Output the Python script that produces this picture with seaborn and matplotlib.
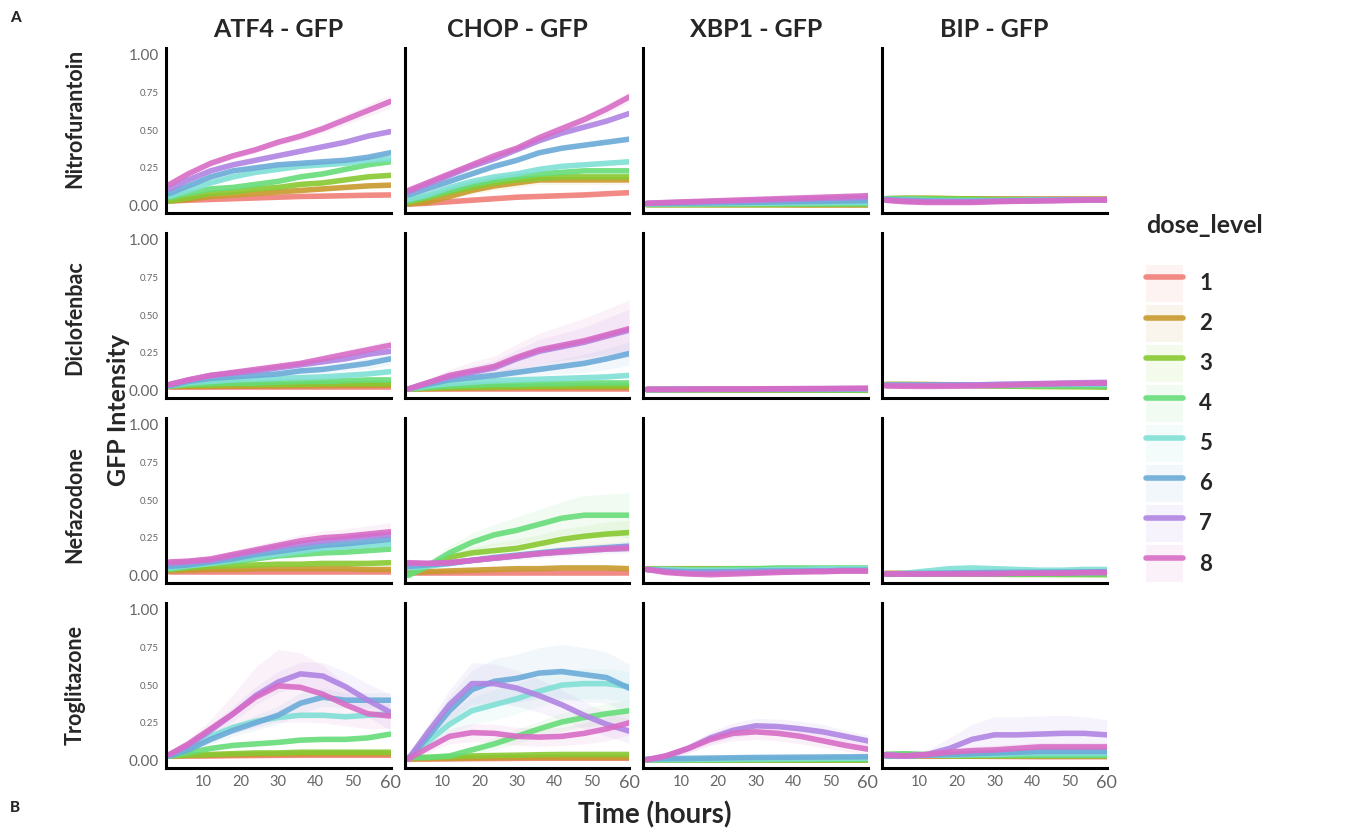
import numpy as np
import pandas as pd
import seaborn as sns
import matplotlib.pyplot as plt
from matplotlib.patches import Patch
from matplotlib.lines import Line2D

# time points (hours) at which the smoothed curves were read
T = [1, 6, 12, 18, 24, 30, 36, 42, 48, 54, 60]
DOSES = ['1', '2', '3', '4', '5', '6', '7', '8']
REPORTERS = ['ATF4 - GFP', 'CHOP - GFP', 'XBP1 - GFP', 'BIP - GFP']
COMPOUNDS = ['Nitrofurantoin', 'Diclofenbac', 'Nefazodone', 'Troglitazone']
COLORS = ['#F07E78', '#C99A2E', '#88C932', '#66DC78', '#80E0D6', '#6BABD8', '#B084E2', '#D86CC6']
Y_TICKS = [0, 0.25, 0.5, 0.75, 1.0]
Y_LABELS = ['0.00', '0.25', '0.50', '0.75', '1.00']
X_TICKS = [10, 20, 30, 40, 50, 60]
BAND_DEFAULT = 0.012

# one list per dose level (1..8), values at T
nitro_atf4 = [
    [0.03, 0.035, 0.04, 0.045, 0.05, 0.055, 0.06, 0.062, 0.065, 0.068, 0.07],
    [0.03, 0.04, 0.06, 0.07, 0.08, 0.09, 0.10, 0.11, 0.12, 0.13, 0.135],
    [0.03, 0.05, 0.08, 0.09, 0.11, 0.12, 0.14, 0.15, 0.17, 0.19, 0.20],
    [0.05, 0.08, 0.11, 0.12, 0.14, 0.16, 0.19, 0.21, 0.24, 0.27, 0.29],
    [0.06, 0.10, 0.15, 0.19, 0.22, 0.24, 0.26, 0.27, 0.28, 0.30, 0.31],
    [0.08, 0.13, 0.19, 0.23, 0.25, 0.27, 0.28, 0.29, 0.30, 0.32, 0.35],
    [0.11, 0.17, 0.23, 0.27, 0.30, 0.33, 0.36, 0.39, 0.42, 0.46, 0.49],
    [0.14, 0.21, 0.28, 0.33, 0.37, 0.42, 0.46, 0.51, 0.57, 0.63, 0.69],
]
nitro_atf4_band = {'8': [0.01, 0.015, 0.02, 0.02, 0.02, 0.02, 0.025, 0.03, 0.035, 0.04, 0.045]}

nitro_chop = [
    [0.01, 0.015, 0.025, 0.035, 0.045, 0.055, 0.06, 0.065, 0.07, 0.078, 0.085],
    [0.01, 0.02, 0.06, 0.10, 0.13, 0.15, 0.17, 0.17, 0.17, 0.17, 0.17],
    [0.02, 0.05, 0.09, 0.12, 0.15, 0.17, 0.18, 0.19, 0.19, 0.19, 0.19],
    [0.03, 0.06, 0.10, 0.14, 0.17, 0.19, 0.21, 0.22, 0.23, 0.23, 0.23],
    [0.04, 0.07, 0.12, 0.16, 0.19, 0.21, 0.24, 0.26, 0.27, 0.28, 0.29],
    [0.07, 0.11, 0.16, 0.21, 0.26, 0.30, 0.35, 0.38, 0.40, 0.42, 0.44],
    [0.09, 0.14, 0.20, 0.26, 0.31, 0.37, 0.43, 0.48, 0.52, 0.56, 0.61],
    [0.10, 0.15, 0.21, 0.27, 0.33, 0.38, 0.45, 0.51, 0.57, 0.64, 0.72],
]
nitro_chop_band = {'8': [0.01, 0.015, 0.02, 0.02, 0.025, 0.025, 0.03, 0.03, 0.03, 0.035, 0.035],
                   '2': [0.01, 0.015, 0.02, 0.025, 0.03, 0.03, 0.03, 0.03, 0.03, 0.03, 0.03]}

nitro_xbp1 = [
    [0.008, 0.008, 0.008, 0.009, 0.009, 0.009, 0.01, 0.01, 0.01, 0.01, 0.01],
    [0.005, 0.005, 0.005, 0.004, 0.004, 0.004, 0.004, 0.003, 0.003, 0.003, 0.003],
    [0.006, 0.006, 0.006, 0.007, 0.007, 0.007, 0.007, 0.008, 0.008, 0.008, 0.008],
    [0.008, 0.008, 0.009, 0.009, 0.01, 0.01, 0.01, 0.011, 0.011, 0.012, 0.012],
    [0.01, 0.011, 0.012, 0.013, 0.014, 0.015, 0.016, 0.017, 0.018, 0.019, 0.02],
    [0.012, 0.014, 0.016, 0.018, 0.02, 0.022, 0.024, 0.026, 0.028, 0.03, 0.032],
    [0.015, 0.018, 0.022, 0.026, 0.03, 0.034, 0.038, 0.042, 0.046, 0.05, 0.054],
    [0.015, 0.02, 0.025, 0.03, 0.035, 0.04, 0.045, 0.05, 0.055, 0.06, 0.065],
]

nitro_bip = [
    [0.04, 0.04, 0.04, 0.04, 0.04, 0.04, 0.04, 0.04, 0.04, 0.04, 0.04],
    [0.045, 0.048, 0.048, 0.046, 0.044, 0.042, 0.041, 0.04, 0.04, 0.04, 0.04],
    [0.045, 0.047, 0.047, 0.045, 0.043, 0.04, 0.04, 0.04, 0.04, 0.04, 0.04],
    [0.045, 0.045, 0.043, 0.04, 0.038, 0.037, 0.037, 0.037, 0.038, 0.038, 0.038],
    [0.04, 0.037, 0.033, 0.03, 0.03, 0.032, 0.033, 0.035, 0.036, 0.037, 0.038],
    [0.04, 0.035, 0.03, 0.028, 0.028, 0.03, 0.032, 0.035, 0.036, 0.037, 0.038],
    [0.035, 0.03, 0.025, 0.025, 0.025, 0.028, 0.03, 0.032, 0.035, 0.037, 0.038],
    [0.035, 0.025, 0.02, 0.02, 0.02, 0.025, 0.028, 0.03, 0.032, 0.035, 0.037],
]

diclo_atf4 = [
    [0.02, 0.02, 0.02, 0.02, 0.02, 0.02, 0.02, 0.02, 0.02, 0.02, 0.02],
    [0.025, 0.026, 0.027, 0.028, 0.029, 0.03, 0.031, 0.032, 0.033, 0.034, 0.035],
    [0.03, 0.035, 0.035, 0.04, 0.04, 0.04, 0.04, 0.045, 0.045, 0.045, 0.045],
    [0.03, 0.04, 0.045, 0.05, 0.05, 0.055, 0.06, 0.06, 0.065, 0.07, 0.07],
    [0.03, 0.05, 0.06, 0.07, 0.075, 0.08, 0.085, 0.09, 0.10, 0.11, 0.125],
    [0.03, 0.06, 0.08, 0.09, 0.10, 0.11, 0.13, 0.14, 0.16, 0.18, 0.21],
    [0.04, 0.07, 0.10, 0.115, 0.13, 0.15, 0.17, 0.19, 0.21, 0.24, 0.26],
    [0.04, 0.07, 0.10, 0.12, 0.14, 0.16, 0.18, 0.21, 0.24, 0.27, 0.30],
]
diclo_atf4_band = {'8': [0.01, 0.01, 0.015, 0.015, 0.015, 0.02, 0.02, 0.025, 0.03, 0.03, 0.035],
                   '6': [0.01, 0.01, 0.015, 0.015, 0.02, 0.02, 0.025, 0.03, 0.03, 0.035, 0.04]}

diclo_chop = [
    [0.01, 0.01, 0.01, 0.01, 0.01, 0.01, 0.01, 0.01, 0.01, 0.01, 0.01],
    [0.01, 0.012, 0.014, 0.016, 0.018, 0.02, 0.02, 0.02, 0.02, 0.02, 0.02],
    [0.01, 0.015, 0.02, 0.022, 0.024, 0.026, 0.028, 0.03, 0.03, 0.03, 0.03],
    [0.01, 0.02, 0.03, 0.035, 0.04, 0.04, 0.045, 0.045, 0.05, 0.05, 0.05],
    [0.01, 0.03, 0.045, 0.055, 0.065, 0.07, 0.075, 0.08, 0.085, 0.09, 0.10],
    [0.01, 0.04, 0.07, 0.085, 0.10, 0.12, 0.14, 0.16, 0.18, 0.21, 0.245],
    [0.01, 0.05, 0.09, 0.12, 0.15, 0.21, 0.26, 0.29, 0.32, 0.36, 0.40],
    [0.01, 0.05, 0.10, 0.13, 0.16, 0.22, 0.27, 0.30, 0.33, 0.37, 0.41],
]
diclo_chop_band = {'8': [0.01, 0.02, 0.04, 0.06, 0.07, 0.09, 0.11, 0.13, 0.15, 0.17, 0.19],
                   '7': [0.01, 0.02, 0.03, 0.04, 0.05, 0.06, 0.08, 0.09, 0.10, 0.12, 0.14],
                   '6': [0.01, 0.015, 0.02, 0.025, 0.03, 0.035, 0.04, 0.05, 0.06, 0.07, 0.08]}

diclo_xbp1 = [
    [0.006, 0.006, 0.006, 0.006, 0.006, 0.006, 0.006, 0.006, 0.006, 0.006, 0.006],
    [0.006, 0.006, 0.006, 0.006, 0.005, 0.005, 0.005, 0.005, 0.005, 0.005, 0.005],
    [0.006, 0.006, 0.005, 0.005, 0.004, 0.004, 0.003, 0.003, 0.002, 0.002, 0.001],
    [0.006, 0.006, 0.006, 0.006, 0.006, 0.006, 0.006, 0.005, 0.005, 0.005, 0.005],
    [0.006, 0.006, 0.007, 0.007, 0.008, 0.008, 0.008, 0.009, 0.009, 0.009, 0.01],
    [0.007, 0.007, 0.008, 0.008, 0.009, 0.009, 0.01, 0.01, 0.011, 0.011, 0.012],
    [0.007, 0.008, 0.008, 0.009, 0.01, 0.01, 0.011, 0.012, 0.012, 0.013, 0.013],
    [0.008, 0.008, 0.009, 0.01, 0.01, 0.011, 0.012, 0.012, 0.013, 0.014, 0.015],
]

diclo_bip = [
    [0.035, 0.035, 0.035, 0.035, 0.035, 0.035, 0.035, 0.035, 0.035, 0.035, 0.035],
    [0.04, 0.04, 0.04, 0.038, 0.036, 0.034, 0.033, 0.032, 0.032, 0.032, 0.032],
    [0.04, 0.04, 0.038, 0.035, 0.033, 0.03, 0.028, 0.026, 0.025, 0.024, 0.022],
    [0.035, 0.035, 0.035, 0.034, 0.033, 0.032, 0.031, 0.03, 0.03, 0.03, 0.03],
    [0.035, 0.035, 0.035, 0.035, 0.036, 0.037, 0.038, 0.039, 0.04, 0.04, 0.04],
    [0.035, 0.035, 0.035, 0.036, 0.037, 0.039, 0.041, 0.043, 0.045, 0.046, 0.047],
    [0.035, 0.034, 0.034, 0.035, 0.037, 0.04, 0.043, 0.046, 0.049, 0.052, 0.054],
    [0.03, 0.028, 0.027, 0.028, 0.03, 0.033, 0.038, 0.042, 0.046, 0.048, 0.05],
]

nefa_atf4 = [
    [0.025, 0.025, 0.025, 0.025, 0.025, 0.025, 0.025, 0.025, 0.025, 0.025, 0.025],
    [0.03, 0.035, 0.04, 0.04, 0.045, 0.045, 0.045, 0.045, 0.045, 0.04, 0.04],
    [0.04, 0.05, 0.06, 0.065, 0.07, 0.075, 0.075, 0.08, 0.08, 0.08, 0.085],
    [0.04, 0.06, 0.08, 0.09, 0.11, 0.13, 0.14, 0.15, 0.155, 0.165, 0.175],
    [0.05, 0.065, 0.08, 0.10, 0.12, 0.14, 0.16, 0.18, 0.19, 0.20, 0.21],
    [0.06, 0.07, 0.09, 0.11, 0.14, 0.16, 0.18, 0.20, 0.21, 0.225, 0.24],
    [0.08, 0.09, 0.10, 0.13, 0.16, 0.19, 0.21, 0.23, 0.245, 0.26, 0.27],
    [0.09, 0.095, 0.11, 0.14, 0.17, 0.20, 0.23, 0.25, 0.26, 0.275, 0.29],
]
nefa_atf4_band = {'8': [0.015, 0.015, 0.02, 0.025, 0.03, 0.035, 0.04, 0.045, 0.05, 0.055, 0.06]}

nefa_chop = [
    [0.015, 0.015, 0.015, 0.015, 0.015, 0.015, 0.015, 0.015, 0.015, 0.015, 0.015],
    [0.02, 0.025, 0.03, 0.035, 0.04, 0.045, 0.045, 0.05, 0.05, 0.05, 0.045],
    [0.01, 0.06, 0.12, 0.15, 0.165, 0.18, 0.21, 0.24, 0.26, 0.275, 0.285],
    [0.00, 0.06, 0.15, 0.22, 0.27, 0.30, 0.34, 0.38, 0.40, 0.40, 0.40],
    [0.05, 0.06, 0.08, 0.10, 0.115, 0.13, 0.145, 0.155, 0.165, 0.175, 0.18],
    [0.06, 0.07, 0.08, 0.10, 0.12, 0.135, 0.15, 0.165, 0.175, 0.185, 0.195],
    [0.08, 0.08, 0.085, 0.10, 0.115, 0.13, 0.145, 0.16, 0.17, 0.18, 0.19],
    [0.085, 0.08, 0.085, 0.10, 0.115, 0.13, 0.145, 0.155, 0.165, 0.175, 0.18],
]
nefa_chop_band = {'4': [0.01, 0.03, 0.05, 0.06, 0.07, 0.09, 0.10, 0.11, 0.13, 0.14, 0.15],
                  '3': [0.01, 0.02, 0.03, 0.04, 0.05, 0.06, 0.06, 0.07, 0.07, 0.08, 0.08],
                  '7': [0.01, 0.01, 0.015, 0.02, 0.02, 0.025, 0.03, 0.03, 0.035, 0.035, 0.04]}

nefa_xbp1 = [
    [0.04, 0.04, 0.04, 0.04, 0.038, 0.037, 0.036, 0.035, 0.035, 0.035, 0.035],
    [0.045, 0.045, 0.045, 0.045, 0.045, 0.045, 0.04, 0.04, 0.04, 0.04, 0.04],
    [0.045, 0.045, 0.045, 0.045, 0.045, 0.045, 0.045, 0.045, 0.045, 0.045, 0.045],
    [0.04, 0.04, 0.04, 0.04, 0.045, 0.045, 0.05, 0.05, 0.05, 0.05, 0.05],
    [0.04, 0.04, 0.035, 0.035, 0.035, 0.035, 0.04, 0.04, 0.045, 0.045, 0.045],
    [0.04, 0.03, 0.025, 0.025, 0.025, 0.03, 0.03, 0.03, 0.03, 0.035, 0.035],
    [0.04, 0.025, 0.015, 0.015, 0.02, 0.02, 0.025, 0.025, 0.03, 0.03, 0.03],
    [0.04, 0.02, 0.01, 0.005, 0.01, 0.015, 0.02, 0.025, 0.025, 0.03, 0.03],
]

nefa_bip = [
    [0.01, 0.01, 0.01, 0.01, 0.01, 0.01, 0.01, 0.01, 0.01, 0.01, 0.01],
    [0.015, 0.015, 0.014, 0.013, 0.012, 0.012, 0.011, 0.011, 0.01, 0.01, 0.01],
    [0.01, 0.01, 0.009, 0.009, 0.008, 0.008, 0.007, 0.007, 0.006, 0.006, 0.005],
    [0.01, 0.01, 0.01, 0.01, 0.01, 0.01, 0.01, 0.01, 0.01, 0.01, 0.01],
    [0.01, 0.015, 0.03, 0.045, 0.05, 0.045, 0.04, 0.035, 0.035, 0.04, 0.04],
    [0.01, 0.012, 0.014, 0.016, 0.018, 0.02, 0.021, 0.022, 0.023, 0.024, 0.025],
    [0.01, 0.01, 0.011, 0.012, 0.013, 0.014, 0.015, 0.016, 0.017, 0.018, 0.02],
    [0.01, 0.01, 0.01, 0.01, 0.01, 0.01, 0.015, 0.015, 0.015, 0.02, 0.02],
]

trog_atf4 = [
    [0.03, 0.03, 0.03, 0.032, 0.033, 0.034, 0.035, 0.035, 0.035, 0.035, 0.035],
    [0.03, 0.032, 0.035, 0.038, 0.04, 0.042, 0.044, 0.045, 0.045, 0.045, 0.045],
    [0.03, 0.035, 0.04, 0.045, 0.05, 0.05, 0.055, 0.055, 0.055, 0.055, 0.055],
    [0.03, 0.05, 0.08, 0.10, 0.11, 0.12, 0.135, 0.14, 0.14, 0.15, 0.175],
    [0.03, 0.08, 0.16, 0.22, 0.26, 0.285, 0.30, 0.30, 0.29, 0.30, 0.31],
    [0.03, 0.07, 0.14, 0.20, 0.25, 0.30, 0.38, 0.42, 0.40, 0.40, 0.40],
    [0.04, 0.10, 0.20, 0.31, 0.43, 0.52, 0.575, 0.56, 0.49, 0.40, 0.32],
    [0.04, 0.11, 0.21, 0.31, 0.42, 0.495, 0.485, 0.44, 0.37, 0.31, 0.295],
]
trog_atf4_band = {'8': [0.01, 0.03, 0.06, 0.13, 0.20, 0.24, 0.23, 0.19, 0.14, 0.10, 0.08],
                  '7': [0.01, 0.02, 0.04, 0.05, 0.06, 0.07, 0.08, 0.09, 0.10, 0.11, 0.12],
                  '6': [0.01, 0.02, 0.03, 0.04, 0.05, 0.06, 0.07, 0.06, 0.05, 0.05, 0.05]}

trog_chop = [
    [0.01, 0.01, 0.011, 0.012, 0.013, 0.014, 0.015, 0.015, 0.015, 0.015, 0.015],
    [0.01, 0.012, 0.014, 0.016, 0.018, 0.02, 0.02, 0.02, 0.02, 0.02, 0.02],
    [0.02, 0.02, 0.025, 0.03, 0.033, 0.035, 0.038, 0.04, 0.04, 0.04, 0.04],
    [0.02, 0.02, 0.03, 0.07, 0.11, 0.16, 0.21, 0.255, 0.285, 0.31, 0.33],
    [0.01, 0.12, 0.24, 0.33, 0.37, 0.41, 0.46, 0.50, 0.51, 0.51, 0.49],
    [0.01, 0.15, 0.33, 0.47, 0.525, 0.545, 0.58, 0.59, 0.57, 0.55, 0.48],
    [0.01, 0.18, 0.37, 0.51, 0.51, 0.48, 0.43, 0.37, 0.30, 0.24, 0.195],
    [0.01, 0.08, 0.16, 0.185, 0.18, 0.16, 0.155, 0.16, 0.18, 0.21, 0.25],
]
trog_chop_band = {'6': [0.01, 0.05, 0.10, 0.13, 0.15, 0.16, 0.17, 0.18, 0.18, 0.17, 0.16],
                  '7': [0.01, 0.05, 0.10, 0.14, 0.13, 0.12, 0.11, 0.10, 0.09, 0.08, 0.08],
                  '5': [0.01, 0.04, 0.07, 0.09, 0.10, 0.10, 0.10, 0.10, 0.10, 0.10, 0.10],
                  '8': [0.01, 0.03, 0.05, 0.06, 0.06, 0.06, 0.06, 0.06, 0.07, 0.08, 0.08],
                  '4': [0.01, 0.01, 0.02, 0.03, 0.04, 0.05, 0.05, 0.06, 0.06, 0.07, 0.07]}

trog_xbp1 = [
    [0.0, 0.0, 0.0, 0.0, 0.0, 0.0, 0.0, 0.0, 0.0, 0.0, 0.0],
    [0.0, 0.0, 0.0, 0.0, 0.0, 0.0, 0.0, 0.0, 0.0, 0.0, 0.0],
    [0.002, 0.002, 0.002, 0.002, 0.002, 0.002, 0.002, 0.002, 0.002, 0.002, 0.002],
    [0.004, 0.004, 0.005, 0.005, 0.006, 0.006, 0.007, 0.007, 0.008, 0.008, 0.008],
    [0.005, 0.006, 0.007, 0.008, 0.009, 0.01, 0.011, 0.012, 0.013, 0.014, 0.015],
    [0.01, 0.012, 0.014, 0.016, 0.018, 0.02, 0.021, 0.022, 0.023, 0.024, 0.025],
    [0.005, 0.03, 0.08, 0.15, 0.20, 0.23, 0.225, 0.21, 0.19, 0.16, 0.13],
    [0.005, 0.03, 0.08, 0.14, 0.18, 0.19, 0.18, 0.16, 0.13, 0.10, 0.075],
]
trog_xbp1_band = {'7': [0.01, 0.02, 0.03, 0.04, 0.05, 0.05, 0.05, 0.05, 0.05, 0.04, 0.04],
                  '8': [0.01, 0.02, 0.03, 0.04, 0.05, 0.05, 0.05, 0.05, 0.045, 0.04, 0.04]}

trog_bip = [
    [0.03, 0.03, 0.03, 0.03, 0.028, 0.027, 0.026, 0.025, 0.025, 0.025, 0.025],
    [0.035, 0.03, 0.03, 0.03, 0.03, 0.03, 0.03, 0.03, 0.03, 0.03, 0.03],
    [0.04, 0.04, 0.035, 0.03, 0.03, 0.03, 0.03, 0.03, 0.03, 0.03, 0.03],
    [0.04, 0.045, 0.04, 0.035, 0.035, 0.035, 0.035, 0.035, 0.035, 0.035, 0.035],
    [0.03, 0.03, 0.035, 0.035, 0.04, 0.04, 0.045, 0.045, 0.045, 0.045, 0.045],
    [0.03, 0.03, 0.035, 0.04, 0.045, 0.05, 0.055, 0.06, 0.06, 0.06, 0.06],
    [0.04, 0.03, 0.04, 0.08, 0.14, 0.17, 0.17, 0.175, 0.18, 0.18, 0.17],
    [0.035, 0.03, 0.04, 0.055, 0.065, 0.07, 0.08, 0.09, 0.09, 0.09, 0.09],
]
trog_bip_band = {'7': [0.01, 0.01, 0.03, 0.07, 0.10, 0.12, 0.12, 0.12, 0.12, 0.11, 0.10],
                 '8': [0.01, 0.01, 0.02, 0.02, 0.03, 0.03, 0.03, 0.03, 0.03, 0.03, 0.03]}

panels = [
    [(nitro_atf4, nitro_atf4_band), (nitro_chop, nitro_chop_band), (nitro_xbp1, {}), (nitro_bip, {})],
    [(diclo_atf4, diclo_atf4_band), (diclo_chop, diclo_chop_band), (diclo_xbp1, {}), (diclo_bip, {})],
    [(nefa_atf4, nefa_atf4_band), (nefa_chop, nefa_chop_band), (nefa_xbp1, {}), (nefa_bip, {})],
    [(trog_atf4, trog_atf4_band), (trog_chop, trog_chop_band), (trog_xbp1, trog_xbp1_band), (trog_bip, trog_bip_band)],
]


def panel_frame(values, bands):
    # three rows per time point (lower, mean, upper) -> seaborn band from min to max
    rows = []
    for i, dose in enumerate(DOSES):
        hw = bands.get(dose, [BAND_DEFAULT] * len(T))
        for t, m, h in zip(T, values[i], hw):
            for v in (m - h, m, m + h):
                rows.append((t, dose, v))
    return pd.DataFrame(rows, columns=['time', 'dose_level', 'value'])


sns.set_style('white')
plt.rcParams['font.family'] = ['Lato', 'DejaVu Sans']
palette = dict(zip(DOSES, COLORS))

fig = plt.figure(figsize=(13.59, 8.32), dpi=100)
axes = fig.subplots(4, 4, sharex=True, sharey=True)
fig.subplots_adjust(left=0.122, right=0.8146, top=0.9423, bottom=0.0769, wspace=0.062, hspace=0.121)

for r in range(4):
    for c in range(4):
        ax = axes[r, c]
        values, bands = panels[r][c]
        df = panel_frame(values, bands)
        sns.lineplot(data=df, x='time', y='value', hue='dose_level', hue_order=DOSES,
                     palette=palette, estimator='mean', errorbar=('pi', 100),
                     linewidth=4, alpha=0.9, legend=False,
                     err_kws={'alpha': 0.09, 'linewidth': 0}, ax=ax)
        ax.set_xlabel('')
        ax.set_ylabel('')
        for side in ['top', 'right']:
            ax.spines[side].set_visible(False)
        for side in ['left', 'bottom']:
            ax.spines[side].set_linewidth(2.2)
            ax.spines[side].set_color('black')
        ax.tick_params(axis='both', length=3, width=1.6, color='black', pad=2,
                       labelcolor='#666666')
        if r == 0:
            ax.set_title(REPORTERS[c], fontsize=18, fontweight='bold', pad=8)

ax0 = axes[0, 0]
ax0.set_xlim(0, 60.1)
ax0.set_ylim(-0.05, 1.045)
ax0.set_yticks(Y_TICKS, labels=Y_LABELS)
ax0.set_xticks(X_TICKS)

for r in range(4):
    for lab in axes[r, 0].get_yticklabels():
        lab.set_fontsize(11 if lab.get_text() in ('0.00', '1.00') else 7)
for c in range(4):
    for lab in axes[3, c].get_xticklabels():
        lab.set_fontsize(13 if lab.get_text() == '60' else 10.5)

label_y = [118, 318, 505, 685]
for name, yp in zip(COMPOUNDS, label_y):
    fig.text(0.055, 1 - yp / 832, name, rotation=90, ha='center', va='center',
             fontsize=15.5, fontweight='bold')

fig.text(118 / 1359, 1 - 410 / 832, 'GFP Intensity', rotation=90, ha='center', va='center',
         fontsize=18, fontweight='bold')
fig.text(655 / 1359, 1 - 815 / 832, 'Time (hours)', ha='center', va='center',
         fontsize=20, fontweight='bold')
fig.text(10 / 1359, 1 - 18 / 832, 'A', ha='left', va='center', fontsize=11, fontweight='black')
fig.text(10 / 1359, 1 - 808 / 832, 'B', ha='left', va='center', fontsize=11, fontweight='black')

handles = [(Patch(facecolor=col, alpha=0.09, edgecolor='none'),
            Line2D([], [], color=col, linewidth=4, alpha=0.9)) for col in COLORS]
leg = fig.legend(handles, DOSES, loc='upper left',
                 bbox_to_anchor=(1146 / 1359, 1 - 214 / 832), frameon=False,
                 borderpad=0, borderaxespad=0,
                 title='dose_level', alignment='left',
                 title_fontproperties={'weight': 'bold', 'size': 18},
                 prop={'weight': 'bold', 'size': 16},
                 handlelength=1.65, handleheight=2.18, labelspacing=0.14,
                 handletextpad=0.75)
leg._legend_box.sep = 20

fig.savefig('out.png', dpi=100)
